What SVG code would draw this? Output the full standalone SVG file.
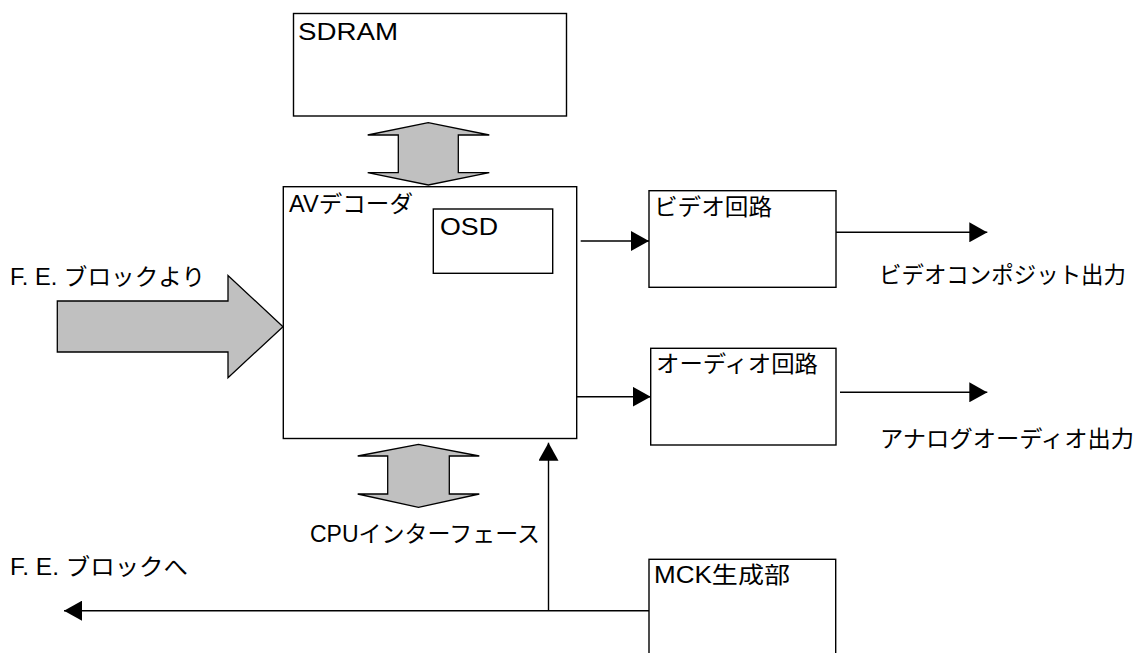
<svg xmlns="http://www.w3.org/2000/svg" width="1139" height="653" viewBox="0 0 1139 653">
<defs>
<style>
.box{fill:#fff;stroke:#000;stroke-width:1.4}
.fat{fill:#c0c0c0;stroke:#000;stroke-width:1.3;stroke-linejoin:miter}
.ln{fill:none;stroke:#000;stroke-width:1.4}
text{font-family:"Liberation Sans","Noto Sans CJK JP",sans-serif;font-size:23px;fill:#000}
</style>
<marker id="ah" viewBox="0 0 18 20" refX="18" refY="10" markerUnits="userSpaceOnUse" markerWidth="18" markerHeight="20" orient="auto">
<path d="M0,0 L18,10 L0,20 Z" fill="#000"/>
</marker>
</defs>
<rect width="1139" height="653" fill="#fff"/>
<g id="connectors">
<polygon class="fat" points="428.3,122.7 367.7,135 398.3,135 398.3,172.7 367.7,172.7 428.3,185 489.3,172.7 458.3,172.7 458.3,135 489.3,135"/>
<polygon class="fat" points="418.5,444.3 357.7,456 387.7,456 387.7,494 357.7,494 418.5,507.3 479.3,494 449.3,494 449.3,456 479.3,456"/>
<polygon class="fat" points="57.3,301 228,301 228,275.5 283,326.7 228,377.7 228,352 57.3,352"/>
<line class="ln" x1="580.7" y1="241" x2="649" y2="241" marker-end="url(#ah)"/>
<line class="ln" x1="577" y1="396.7" x2="650.7" y2="396.7" marker-end="url(#ah)"/>
<line class="ln" x1="836" y1="232.3" x2="987.3" y2="232.3" marker-end="url(#ah)"/>
<line class="ln" x1="840" y1="392.3" x2="987.3" y2="392.3" marker-end="url(#ah)"/>
<line class="ln" x1="649" y1="610.7" x2="64" y2="610.7" marker-end="url(#ah)"/>
<line class="ln" x1="548.5" y1="610.7" x2="548.5" y2="442.7" marker-end="url(#ah)"/>
</g>
<g id="sdram">
<rect class="box" x="293.5" y="13.5" width="273" height="102.5"/>
<text x="298" y="40" font-size="24" textLength="100" lengthAdjust="spacingAndGlyphs">SDRAM</text>
</g>
<g id="avdecoder">
<rect class="box" x="283.3" y="186.7" width="293.4" height="251.8"/>
<text x="289" y="212" textLength="124" lengthAdjust="spacingAndGlyphs">AVデコーダ</text>
</g>
<g id="osd">
<rect class="box" x="433.3" y="209" width="119.4" height="64.3"/>
<text x="440" y="235" font-size="25" textLength="58" lengthAdjust="spacingAndGlyphs">OSD</text>
</g>
<g id="video">
<rect class="box" x="649" y="190.7" width="187" height="96.6"/>
<text x="654" y="214.5" textLength="118" lengthAdjust="spacingAndGlyphs">ビデオ回路</text>
</g>
<g id="audio">
<rect class="box" x="650.7" y="348.3" width="185.3" height="96.7"/>
<text x="656" y="372" textLength="162" lengthAdjust="spacingAndGlyphs">オーディオ回路</text>
</g>
<g id="mck">
<rect class="box" x="649" y="559.3" width="186.7" height="100"/>
<text x="654" y="583" textLength="136" lengthAdjust="spacingAndGlyphs">MCK生成部</text>
</g>
<g id="labels">
<text x="879" y="283" textLength="247" lengthAdjust="spacingAndGlyphs">ビデオコンポジット出力</text>
<text x="880" y="446.5" textLength="254" lengthAdjust="spacingAndGlyphs">アナログオーディオ出力</text>
<text x="10" y="285" textLength="195" lengthAdjust="spacingAndGlyphs">F. E. ブロックより</text>
<text x="10" y="575" textLength="178" lengthAdjust="spacingAndGlyphs">F. E. ブロックへ</text>
<text x="310" y="542" textLength="230" lengthAdjust="spacingAndGlyphs">CPUインターフェース</text>
</g>
</svg>
